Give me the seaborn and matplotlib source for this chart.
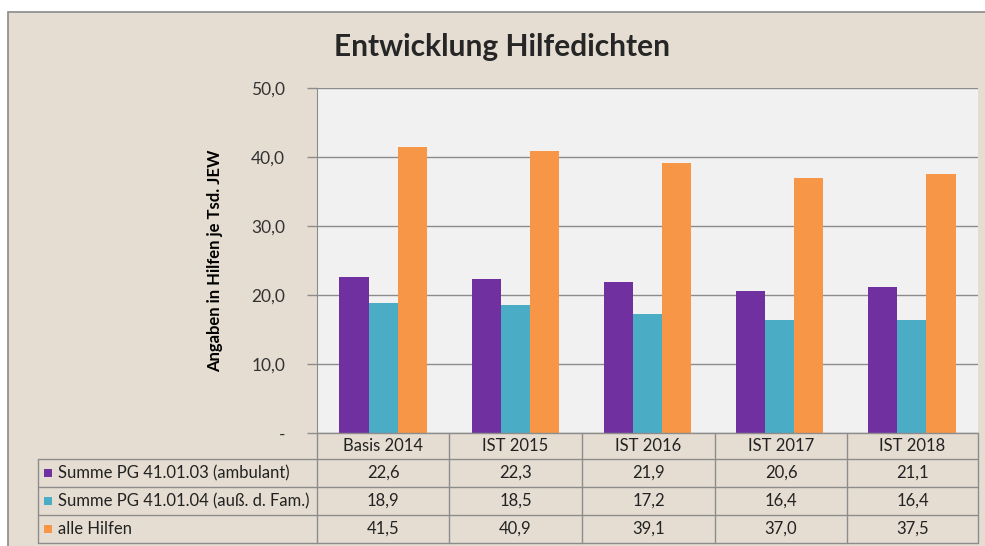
import numpy as np
import pandas as pd
import matplotlib.pyplot as plt
import seaborn as sns
from matplotlib.patches import Rectangle
from matplotlib.lines import Line2D

# data
years = ["Basis 2014", "IST 2015", "IST 2016", "IST 2017", "IST 2018"]
series_names = ["Summe PG 41.01.03 (ambulant)", "Summe PG 41.01.04 (auß. d. Fam.)", "alle Hilfen"]
ambulant = [22.6, 22.3, 21.9, 20.6, 21.1]
ausser_fam = [18.9, 18.5, 17.2, 16.4, 16.4]
alle_hilfen = [41.5, 40.9, 39.1, 37.0, 37.5]
colors = ["#7030A0", "#4BACC6", "#F79646"]

df = pd.DataFrame({
    "Jahr": years * 3,
    "Reihe": [series_names[0]] * 5 + [series_names[1]] * 5 + [series_names[2]] * 5,
    "Wert": ambulant + ausser_fam + alle_hilfen,
})

sns.set_style("white")
plt.rcParams["font.family"] = ["Lato", "DejaVu Sans"]

W, H = 985, 546
fig = plt.figure(figsize=(W / 100, H / 100), dpi=100)
fig.patch.set_facecolor("white")

def fx(px):
    return px / W

def fy(py):
    return 1 - py / H

# beige chart background with border
fig.add_artist(Rectangle((fx(8), fy(550)), fx(990 - 8), 538 / H,
                         transform=fig.transFigure, facecolor="#E5DDD2",
                         edgecolor="#8a8a8a", lw=1.2, zorder=0))

left, right, top, bottom = 317, 978, 88, 433
ax = fig.add_axes([fx(left), fy(bottom), fx(right - left), (bottom - top) / H])
ax.set_facecolor("#F1F1F1")

sns.barplot(data=df, x="Jahr", y="Wert", hue="Reihe", palette=colors,
            width=0.66, gap=0, saturation=1, linewidth=0, ax=ax, legend=False)
ax.set_ylim(0, 50)
ax.set_xlim(-0.5, 4.5)
ax.set_yticks(np.arange(0, 51, 10))
ax.set_yticklabels(["-" if v == 0 else f"{v:.1f}".replace(".", ",") for v in np.arange(0, 51, 10)],
                   fontsize=12.5, color="#333333")
ax.yaxis.grid(True, color="#8c8c8c", lw=1)
ax.set_axisbelow(True)
ax.tick_params(axis="y", length=7, width=1, color="#8c8c8c", pad=16, left=True)
ax.set_xticks([])
ax.set_xlabel("")
ax.set_ylabel("Angaben in Hilfen je Tsd. JEW", fontsize=12, fontweight="bold",
              color="black", labelpad=20)
for s in ["top", "right", "bottom"]:
    ax.spines[s].set_visible(False)
ax.spines["left"].set_color("#8c8c8c")

fig.text(fx(502), fy(47), "Entwicklung Hilfedichten", fontsize=21.5, fontweight="bold",
         ha="center", va="center")

# data table below the chart
line_c = "#8c8c8c"
col_edges = [317, 449, 582, 715, 847, 978]
row_edges = [433, 459, 487, 515, 543]

def hline(y, x0, x1):
    fig.add_artist(Line2D([fx(x0), fx(x1)], [fy(y), fy(y)], color=line_c, lw=1,
                          transform=fig.transFigure))

def vline(x, y0, y1):
    fig.add_artist(Line2D([fx(x), fx(x)], [fy(y0), fy(y1)], color=line_c, lw=1,
                          transform=fig.transFigure))

hline(433, 317, 978)
for y in row_edges[1:]:
    hline(y, 38, 978)
for x in col_edges:
    vline(x, 433, 543)
vline(38, 459, 543)

for i, year in enumerate(years):
    cx = (col_edges[i] + col_edges[i + 1]) / 2
    fig.text(fx(cx), fy((row_edges[0] + row_edges[1]) / 2), year, fontsize=12,
             ha="center", va="center", color="#222222")

rows = [ambulant, ausser_fam, alle_hilfen]
for r, (name, vals, c) in enumerate(zip(series_names, rows, colors)):
    cy = (row_edges[r + 1] + row_edges[r + 2]) / 2
    fig.add_artist(Rectangle((fx(44), fy(cy + 4)), fx(8), 8 / H, facecolor=c,
                             edgecolor="none", transform=fig.transFigure))
    fig.text(fx(58), fy(cy), name, fontsize=12, ha="left", va="center", color="#222222")
    for i, v in enumerate(vals):
        cx = (col_edges[i] + col_edges[i + 1]) / 2
        fig.text(fx(cx), fy(cy), f"{v:.1f}".replace(".", ","), fontsize=12,
                 ha="center", va="center", color="#222222")

plt.savefig("out.png", dpi=100)
plt.close()
